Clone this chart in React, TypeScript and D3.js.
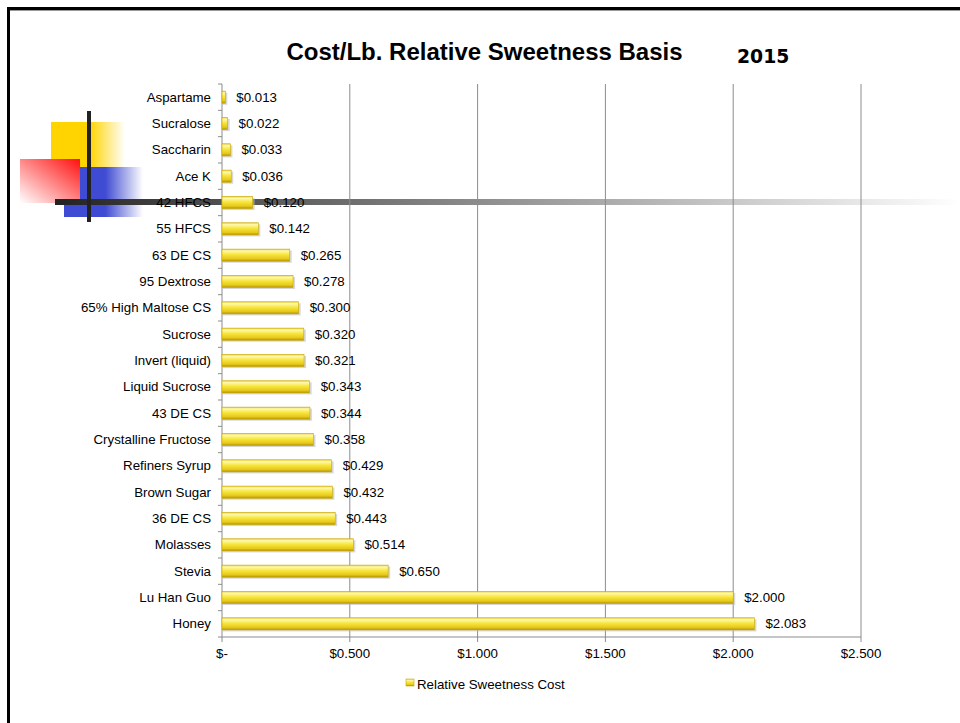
import React from "react";
import * as d3 from "d3";

const categories = [
  "Aspartame", "Sucralose", "Saccharin", "Ace K", "42 HFCS", "55 HFCS",
  "63 DE CS", "95 Dextrose", "65% High Maltose CS", "Sucrose", "Invert (liquid)",
  "Liquid Sucrose", "43 DE CS", "Crystalline Fructose", "Refiners Syrup",
  "Brown Sugar", "36 DE CS", "Molasses", "Stevia", "Lu Han Guo", "Honey",
];
const values = [
  0.013, 0.022, 0.033, 0.036, 0.12, 0.142, 0.265, 0.278, 0.3, 0.32, 0.321,
  0.343, 0.344, 0.358, 0.429, 0.432, 0.443, 0.514, 0.65, 2.0, 2.083,
];
const tickValues = [0, 0.5, 1, 1.5, 2, 2.5];
const tickLabels = ["$-", "$0.500", "$1.000", "$1.500", "$2.000", "$2.500"];
const title = "Cost/Lb. Relative Sweetness Basis";
const yearLabel = "2015";
const seriesName = "Relative Sweetness Cost";

const W = 960;
const H = 723;
const FONT = "Arial, 'Liberation Sans', sans-serif";
const FS = 13.3;

export default function App() {
  const x = d3.scaleLinear().domain([0, 2.5]).range([222, 861]);
  const y = d3
    .scaleBand<string>()
    .domain(categories)
    .range([84, 637])
    .paddingInner(0.54)
    .paddingOuter(0.27);
  const bw = y.bandwidth();
  const step = y.step();
  const top = 84;
  const bottom = 637;
  const data = categories.map((c, i) => ({ c, v: values[i] }));

  return (
    <svg
      width={W}
      height={H}
      style={{ position: "absolute", left: 0, top: 0, display: "block" }}
    >
      <defs>
        <linearGradient id="yel" x1="0" y1="0" x2="1" y2="0">
          <stop offset="0" stopColor="#FFD400" />
          <stop offset="0.52" stopColor="#FFD400" />
          <stop offset="1" stopColor="#FFFFFF" />
        </linearGradient>
        <linearGradient id="blu" x1="0" y1="0" x2="1" y2="0">
          <stop offset="0" stopColor="#3F4BD2" />
          <stop offset="0.52" stopColor="#3F4BD2" />
          <stop offset="1" stopColor="#FFFFFF" />
        </linearGradient>
        <linearGradient id="red" x1="1" y1="0" x2="0" y2="1">
          <stop offset="0" stopColor="#FF1010" />
          <stop offset="1" stopColor="#FFFFFF" />
        </linearGradient>
        <linearGradient id="hline" gradientUnits="userSpaceOnUse" x1="55" y1="0" x2="960" y2="0">
          <stop offset="0" stopColor="#222222" />
          <stop offset="0.15" stopColor="#484848" />
          <stop offset="1" stopColor="#FFFFFF" />
        </linearGradient>
        <linearGradient id="bar" x1="0" y1="0" x2="0" y2="1">
          <stop offset="0" stopColor="#E8CF3A" />
          <stop offset="0.15" stopColor="#FFF9B0" />
          <stop offset="0.45" stopColor="#F8E63C" />
          <stop offset="0.8" stopColor="#E6C81C" />
          <stop offset="1" stopColor="#B39300" />
        </linearGradient>
      </defs>

      <rect x={0} y={0} width={W} height={H} fill="#fff" />

      {/* slide frame */}
      <rect x={7} y={7} width={W - 7} height={3} fill="#000" />
      <rect x={10} y={10} width={W - 10} height={1} fill="#999" />
      <rect x={7} y={7} width={3} height={H - 7} fill="#000" />

      {/* decoration */}
      <rect x={51} y={122} width={74} height={45} fill="url(#yel)" />
      <rect x={64} y={167} width={79} height={50} fill="url(#blu)" />
      <rect x={20} y={159} width={60} height={44} fill="url(#red)" />
      <rect x={55} y={199} width={W - 55} height={6} fill="url(#hline)" />
      <rect x={87} y={111} width={4} height={111} fill="#222" />

      {/* title */}
      <text x={484.5} y={60} textAnchor="middle" fontFamily={FONT} fontWeight="bold" fontSize={24}>
        {title}
      </text>
      <text x={737} y={63} fontFamily="Verdana, 'DejaVu Sans', sans-serif" fontWeight="bold" fontSize={18.8}>
        {yearLabel}
      </text>

      {/* gridlines */}
      {tickValues.slice(1).map((t) => (
        <line key={t} x1={x(t)} x2={x(t)} y1={top} y2={bottom} stroke="#8c8c8c" strokeWidth={1} />
      ))}

      {/* axes */}
      <line x1={x(0)} x2={x(0)} y1={top} y2={bottom} stroke="#8c8c8c" />
      {d3.range(categories.length + 1).map((i) => (
        <line key={i} x1={x(0) - 4} x2={x(0)} y1={top + i * step} y2={top + i * step} stroke="#8c8c8c" />
      ))}
      <line x1={x(0)} x2={x(2.5)} y1={bottom} y2={bottom} stroke="#8c8c8c" />
      {tickValues.map((t, i) => (
        <g key={t}>
          <line x1={x(t)} x2={x(t)} y1={bottom} y2={bottom + 5} stroke="#8c8c8c" />
          <text x={x(t)} y={658} textAnchor="middle" fontFamily={FONT} fontSize={FS}>
            {tickLabels[i]}
          </text>
        </g>
      ))}

      {/* bars */}
      {data.map((d) => {
        const yy = y(d.c)!;
        const w = x(d.v) - x(0);
        return (
          <g key={d.c}>
            <rect x={x(0) + 1} y={yy + 1.5} width={w + 1} height={bw} fill="#bdbdbd" opacity={0.6} />
            <rect x={x(0)} y={yy} width={w} height={bw} fill="url(#bar)" stroke="#C9A800" strokeWidth={0.6} />
            <text x={x(d.v) + 11} y={yy + bw / 2 + 4.5} fontFamily={FONT} fontSize={FS}>
              {"$" + d.v.toFixed(3)}
            </text>
            <text x={211} y={yy + bw / 2 + 4.5} textAnchor="end" fontFamily={FONT} fontSize={FS}>
              {d.c}
            </text>
          </g>
        );
      })}

      {/* legend */}
      <rect x={406} y={679} width={8} height={7} fill="url(#bar)" stroke="#C9A800" strokeWidth={0.6} />
      <text x={417} y={689} fontFamily={FONT} fontSize={FS}>
        {seriesName}
      </text>
    </svg>
  );
}
